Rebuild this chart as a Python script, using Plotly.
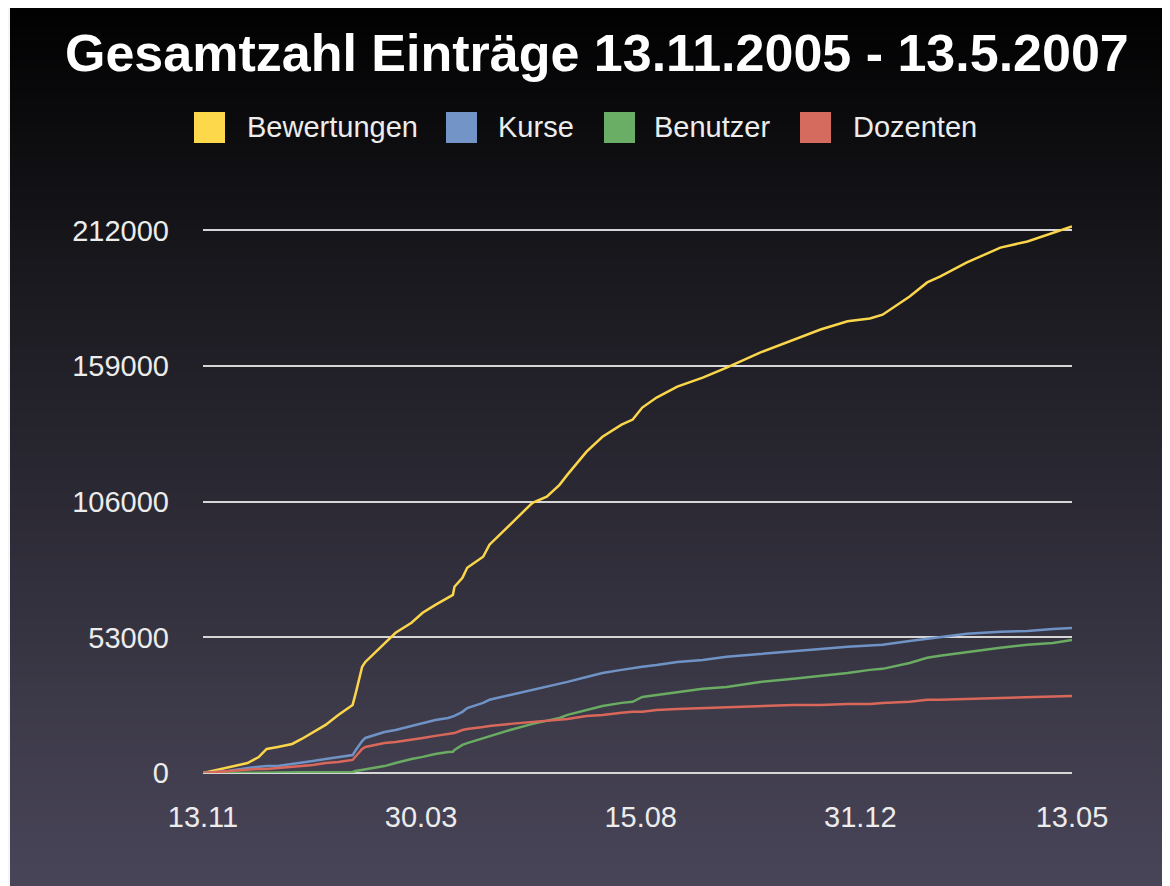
import plotly.graph_objects as go

# ---------------- data ----------------
dates = [
    "2005-11-13", "2005-11-29", "2005-12-11", "2005-12-18", "2005-12-23", "2005-12-30",
    "2006-01-08", "2006-01-14", "2006-01-21", "2006-01-29", "2006-02-06", "2006-02-15",
    "2006-02-17", "2006-02-21", "2006-02-23", "2006-03-01", "2006-03-07", "2006-03-14",
    "2006-03-24", "2006-03-31", "2006-04-08", "2006-04-16", "2006-04-19", "2006-04-20",
    "2006-04-25", "2006-04-28", "2006-05-08", "2006-05-12", "2006-05-25", "2006-06-08",
    "2006-06-17", "2006-06-25", "2006-06-30", "2006-07-12", "2006-07-22", "2006-08-03",
    "2006-08-10", "2006-08-16", "2006-08-25", "2006-09-07", "2006-09-23", "2006-10-08",
    "2006-10-29", "2006-11-19", "2006-12-06", "2006-12-23", "2007-01-06", "2007-01-14",
    "2007-01-31", "2007-02-11", "2007-02-19", "2007-03-08", "2007-03-29", "2007-04-15",
    "2007-05-01", "2007-05-13",
]
bewertungen = [
    0, 2350, 3900, 6250, 9400, 10200, 11350, 13300, 16000, 18800, 22700, 26600,
    31300, 41500, 43400, 46900, 50800, 54800, 58700, 62600, 65700, 68400, 69600, 72800,
    76300, 80200, 84500, 89200, 97000, 105600, 108000, 112600, 116600, 125600, 131400, 136100,
    138100, 142800, 146700, 151000, 154500, 158400, 164300, 169400, 173300, 176500, 177600, 179100,
    186200, 191700, 194000, 199500, 205300, 207700, 211200, 213600,
]
kurse = [
    0, 800, 2000, 2350, 2700, 2750, 3500, 3900, 4700, 5500, 6300, 7000,
    9000, 12500, 13700, 14900, 16000, 16800, 18400, 19600, 20700, 21500, 21900, 22300,
    23900, 25400, 27400, 28600, 30500, 32500, 33600, 34800, 35600, 37500, 39100, 40300,
    41100, 41500, 42200, 43400, 44200, 45400, 46500, 47700, 48500, 49300, 49700, 50100,
    51600, 52400, 53200, 54400, 55200, 55500, 56300, 56700,
]
benutzer = [
    0, 0, 100, 100, 150, 200, 200, 250, 300, 300, 350, 400,
    800, 1200, 1600, 2000, 2700, 3900, 5500, 6300, 7400, 8200, 8300, 9000,
    11000, 11700, 13700, 14500, 16800, 19200, 20300, 21500, 22700, 24600, 26200, 27400,
    27800, 29700, 30500, 31700, 32900, 33600, 35600, 36800, 37900, 39100, 40300, 40700,
    43000, 45000, 45800, 47300, 48900, 50100, 50800, 52000,
]
dozenten = [
    0, 800, 1200, 1600, 1600, 2000, 2350, 2700, 3100, 3900, 4300, 5100,
    6600, 9400, 10200, 11000, 11700, 12100, 12900, 13700, 14500, 15300, 15600, 15600,
    16800, 17200, 18000, 18400, 19200, 19900, 20300, 20700, 21100, 22300, 22700, 23500,
    23900, 23900, 24600, 25000, 25400, 25800, 26200, 26600, 26600, 27000, 27000, 27400,
    27800, 28600, 28600, 28900, 29300, 29700, 29700, 30100,
]

series_names = ["Bewertungen", "Kurse", "Benutzer", "Dozenten"]
series_values = [bewertungen, kurse, benutzer, dozenten]
series_colors = ["#fbd64a", "#7093c6", "#69ac62", "#d9685b"]
legend_colors = ["#fdd84b", "#7294c6", "#6aad64", "#d56a5f"]

tick_dates = ["2005-11-13", "2006-03-30", "2006-08-15", "2006-12-31", "2007-05-13"]
tick_labels = ["13.11", "30.03", "15.08", "31.12", "13.05"]
y_ticks = [0, 53000, 106000, 159000, 212000]
title_text = "Gesamtzahl Einträge 13.11.2005 - 13.5.2007"

# ---------------- layout geometry ----------------
OFF = 8                      # page body margin of the html page
W, H = 1170 - OFF, 886 - OFF
ML, MR, MT, MB = 195, 98, 202, 113
PW = W - ML - MR
PH = H - MT - MB


def fx(page_x):
    return (page_x - OFF - ML) / PW


def fy(page_y):
    return 1 - (page_y - OFF - MT) / PH


fig = go.Figure()
for name, vals, col in zip(series_names, series_values, series_colors):
    fig.add_trace(go.Scatter(
        x=dates, y=vals, name=name, mode="lines",
        line=dict(color=col, width=2.5), showlegend=False,
        cliponaxis=False,
    ))

shapes = []
# background gradient
stops = [(0, (0, 0, 0)), (150, (14, 14, 17)), (300, (28, 27, 33)),
         (500, (43, 41, 52)), (700, (60, 57, 72)), (886, (73, 69, 89))]


def grad(y):
    for (y0, c0), (y1, c1) in zip(stops[:-1], stops[1:]):
        if y0 <= y <= y1:
            t = (y - y0) / (y1 - y0)
            return "rgb(%d,%d,%d)" % tuple(round(a + (b - a) * t) for a, b in zip(c0, c1))
    return "rgb(%d,%d,%d)" % stops[-1][1]


BG_X0 = 10
step = 4
y = OFF
while y < 886:
    y2 = min(886, y + step)
    shapes.append(dict(type="rect", xref="paper", yref="paper",
                       x0=fx(BG_X0), x1=fx(1180), y0=fy(y2 + 0.5), y1=fy(y),
                       fillcolor=grad((y + y2) / 2), line=dict(width=0), layer="below"))
    y = y2

# legend (manual, large squares)
legend_sq_x = [194, 446, 604, 800]
legend_tx_x = [245, 496, 652, 851]
annotations = []
for name, col, sx, tx in zip(series_names, legend_colors, legend_sq_x, legend_tx_x):
    shapes.append(dict(type="rect", xref="paper", yref="paper",
                       x0=fx(sx), x1=fx(sx + 31), y0=fy(143), y1=fy(112),
                       fillcolor=col, line=dict(width=0)))
    annotations.append(dict(text=name, xref="paper", yref="paper", x=fx(tx), y=fy(127),
                            xanchor="left", yanchor="middle", showarrow=False,
                            font=dict(family="Liberation Sans", size=29, color="#ececec")))

annotations.append(dict(text=title_text, xref="paper", yref="paper", x=fx(597), y=fy(53),
                        xanchor="center", yanchor="middle", showarrow=False,
                        font=dict(family="Liberation Sans", size=52, color="#ffffff",
                                  weight="bold")))

fig.update_layout(
    width=W, height=H,
    margin=dict(l=ML, r=MR, t=MT, b=MB, pad=0),
    paper_bgcolor="#f5f5f5",
    plot_bgcolor="rgba(0,0,0,0)",
    shapes=shapes,
    annotations=annotations,
    showlegend=False,
    xaxis=dict(
        type="date", range=["2005-11-13", "2007-05-13"],
        tickvals=tick_dates, ticktext=tick_labels,
        showgrid=False, zeroline=False, showline=False, ticks="",
        ticklabelstandoff=24,
        tickfont=dict(family="Liberation Sans", size=29, color="#ececec"),
    ),
    yaxis=dict(
        range=[0, 220000], tickvals=y_ticks, ticktext=[str(v) for v in y_ticks],
        showgrid=True, gridcolor="#d6d6d6", gridwidth=2,
        zeroline=True, zerolinecolor="#d6d6d6", zerolinewidth=2,
        showline=False, ticks="", ticklabelstandoff=33,
        tickfont=dict(family="Liberation Sans", size=29, color="#ececec"),
    ),
)

fig.write_html("out.html")
